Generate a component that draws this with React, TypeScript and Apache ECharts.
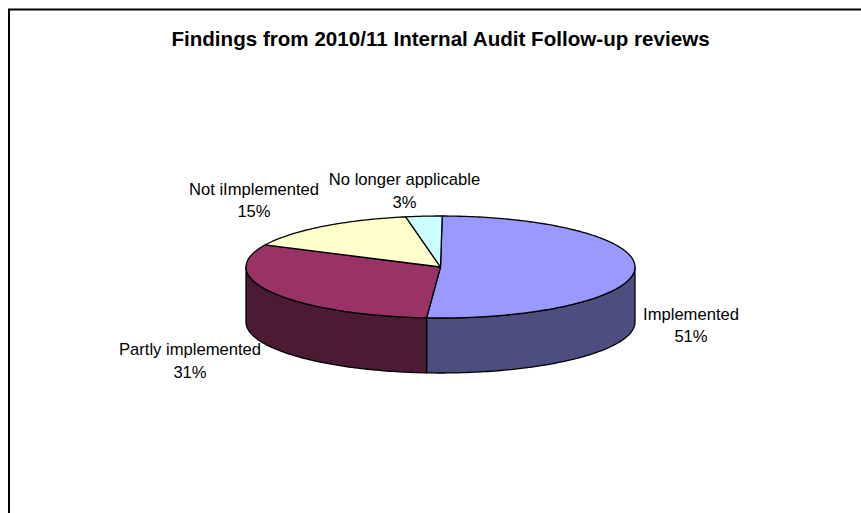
import React, { useEffect, useRef } from "react";
import * as echarts from "echarts";

// Survey outcome shares, in percent, clockwise from twelve o'clock.
const categories = ["Implemented", "Partly implemented", "Not iImplemented", "No longer applicable"];
const shares = [51, 31, 15, 3];
const chartTitle = "Findings from 2010/11 Internal Audit Follow-up reviews";

const topColors = ["#9999FF", "#993366", "#FFFFCC", "#CCFFFF"];
const sideColors = ["#4D4D80", "#4D1A33", "#80806A", "#6A8080"];

// Projected disc geometry.
const CX = 440.5;
const CY = 267;
const RX = 194.5;
const RY = 51;
const DEPTH = 55;
const ROTATION = 0.5;
const STEP = 1;

// Label centres, by slice.
const labelCentres = [
  [691, 325.5],
  [190, 361],
  [254, 200.5],
  [404.5, 191],
];

const FONT_FAMILY = '"Liberation Sans", Arial, sans-serif';

const rimPoint = (deg: number, drop = 0): number[] => {
  const a = (deg * Math.PI) / 180;
  return [CX + RX * Math.sin(a), CY - RY * Math.cos(a) + drop];
};

const sweep = (from: number, to: number, drop = 0): number[][] => {
  const pts: number[][] = [];
  for (let d = from; d < to; d += STEP) pts.push(rimPoint(d, drop));
  pts.push(rimPoint(to, drop));
  return pts;
};

const total = shares.reduce((s, v) => s + v, 0);

const sliceRange = (index: number): number[] => {
  const before = shares.slice(0, index).reduce((s, v) => s + v, 0);
  return [
    ROTATION + (before / total) * 360,
    ROTATION + ((before + shares[index]) / total) * 360,
  ];
};

const renderSlice = (params: any, api: any) => {
  const index = params.dataIndex;
  const [from, to] = sliceRange(index);
  const children: any[] = [];
  const edge = { stroke: "#000000", lineWidth: 1.3, lineJoin: "round" };

  // Only the part of the rim facing the viewer has a visible wall.
  const wallFrom = Math.max(from, 90);
  const wallTo = Math.min(to, 270);
  if (wallFrom < wallTo) {
    const upper = sweep(wallFrom, wallTo);
    const lower = sweep(wallFrom, wallTo, DEPTH).reverse();
    children.push({
      type: "polygon",
      shape: { points: upper.concat(lower) },
      style: { fill: sideColors[index], ...edge },
    });
  }

  children.push({
    type: "polygon",
    shape: { points: [[CX, CY], ...sweep(from, to)] },
    style: { fill: topColors[index], ...edge },
  });

  children.push({
    type: "text",
    z2: 10,
    style: {
      text: `${categories[index]}\n${api.value(0)}%`,
      x: labelCentres[index][0],
      y: labelCentres[index][1],
      align: "center",
      verticalAlign: "middle",
      fontFamily: FONT_FAMILY,
      fontSize: 16.6,
      lineHeight: 22.5,
      fill: "#000000",
    },
  });

  return { type: "group", children };
};

export default function App() {
  const host = useRef<HTMLDivElement>(null);

  useEffect(() => {
    const chart = echarts.init(host.current, null, { renderer: "svg" });
    chart.setOption({
      animation: false,
      backgroundColor: "#ffffff",
      title: {
        text: chartTitle,
        left: 435.5,
        top: 22.5,
        textAlign: "center",
        textStyle: {
          fontFamily: FONT_FAMILY,
          fontSize: 20.6,
          fontWeight: "bold",
          color: "#000000",
        },
      },
      graphic: [
        {
          type: "polyline",
          shape: { points: [[9, 520], [9, 9.5], [870, 9.5]] },
          style: { stroke: "#000000", lineWidth: 2, fill: "none" },
          silent: true,
        },
      ],
      series: [
        {
          type: "custom",
          coordinateSystem: "none",
          renderItem: renderSlice,
          data: shares.map((v) => [v]),
          silent: true,
        },
      ],
    });
    return () => chart.dispose();
  }, []);

  return (
    <div
      ref={host}
      style={{ position: "absolute", left: 0, top: 0, width: 861, height: 513 }}
    />
  );
}
